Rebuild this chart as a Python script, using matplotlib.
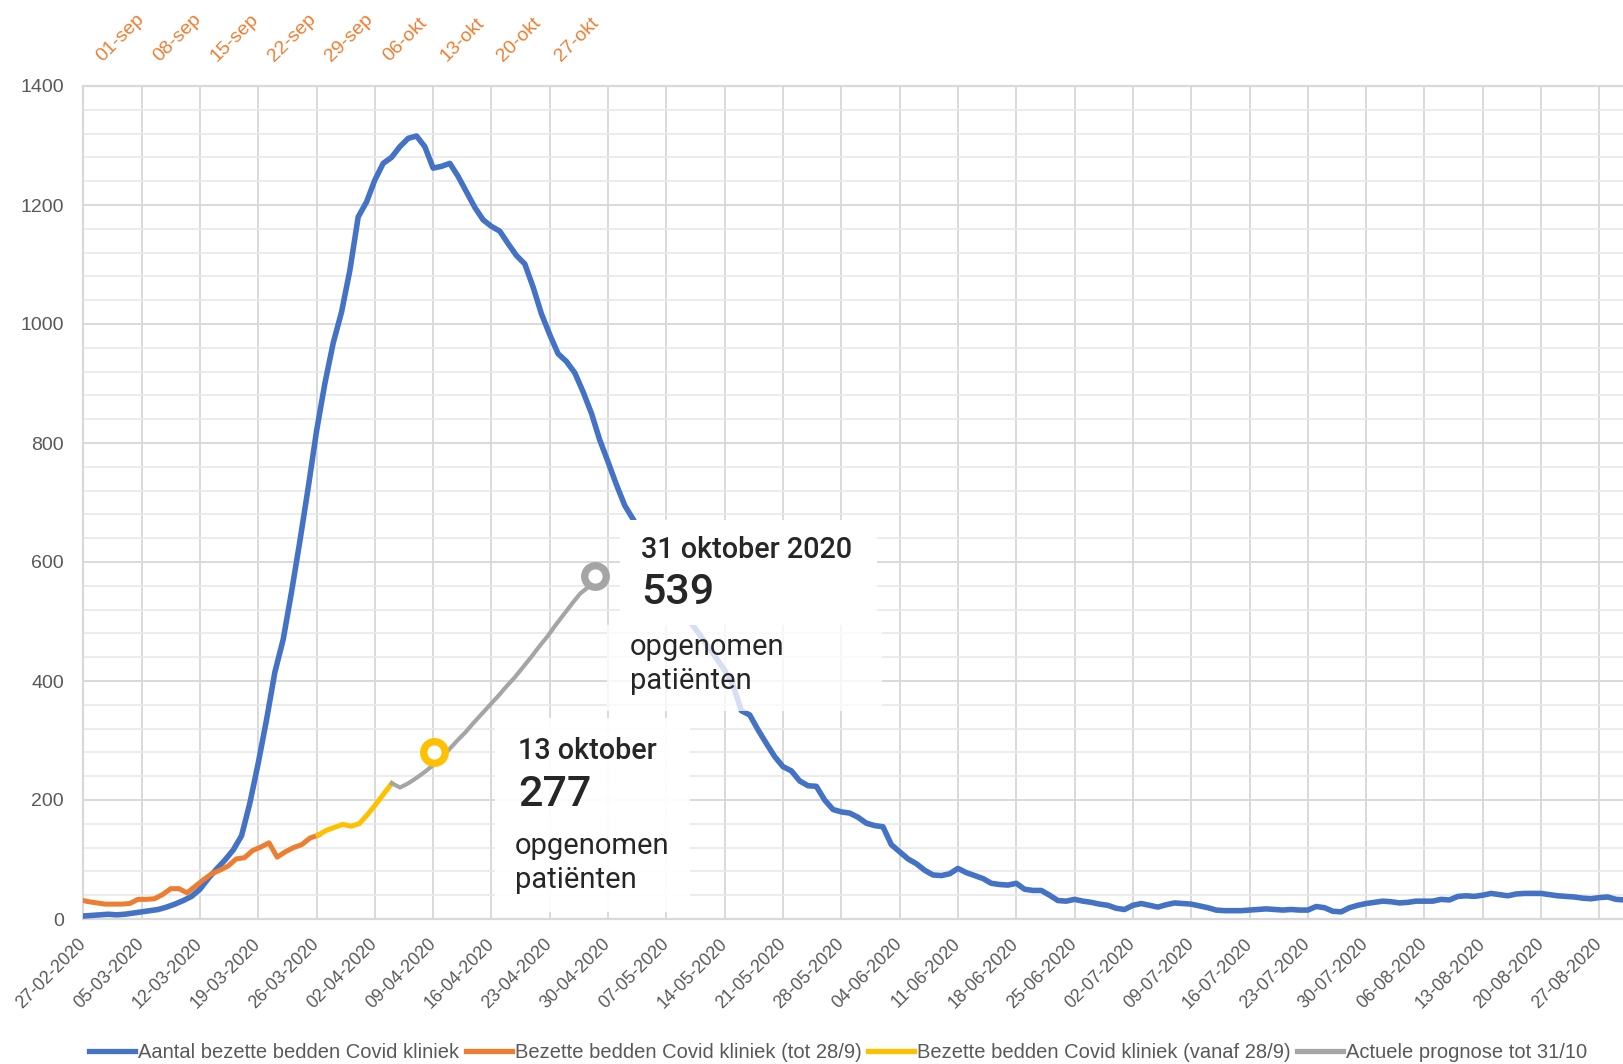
import datetime as dt
import matplotlib
matplotlib.use("Agg")
import matplotlib.pyplot as plt
import matplotlib.dates as mdates
from matplotlib.patches import Rectangle
from matplotlib.ticker import MultipleLocator, FixedLocator
from matplotlib.lines import Line2D
from matplotlib.transforms import ScaledTranslation

# ---------------- data ----------------
blue_start = dt.datetime(2020, 2, 27)
blue_values = [
    5, 6, 7, 8, 7, 8, 10, 12, 14, 16, 20, 25, 31, 38, 50, 68, 84, 99, 116, 140,
    195, 262, 335, 415, 470, 550, 635, 725, 820, 900, 968, 1020, 1090, 1180, 1205, 1242, 1270, 1280, 1298, 1312,
    1316, 1298, 1262, 1265, 1270, 1248, 1222, 1196, 1175, 1164, 1156, 1135, 1115, 1101, 1062, 1017, 982, 950, 937, 918,
    886, 850, 805, 768, 730, 695, 672, 648, 622, 598, 572, 548, 522, 497, 478, 458, 438, 418, 393, 350,
    343, 318, 295, 273, 256, 249, 232, 224, 223, 200, 184, 180, 178, 171, 161, 157, 155, 125, 113, 101,
    93, 82, 74, 73, 76, 85, 78, 73, 68, 60, 58, 57, 60, 50, 48, 48, 40, 31, 30, 33,
    30, 28, 25, 23, 18, 16, 23, 26, 23, 20, 24, 27, 26, 25, 22, 19, 15, 14, 14, 14,
    15, 16, 17, 16, 15, 16, 15, 15, 21, 19, 13, 12, 19, 23, 26, 28, 30, 29, 27, 28,
    30, 30, 30, 33, 32, 38, 39, 38, 40, 43, 41, 39, 42, 43, 43, 43, 41, 39, 38, 37,
    35, 34, 36, 37, 33, 32,
]

orange_start = dt.datetime(2020, 8, 30)
orange_values = [32, 29, 27, 25, 25, 25, 26, 33, 33, 34, 41, 51, 51, 44, 55, 66, 76, 82, 89, 101,
                 103, 115, 121, 128, 104, 113, 120, 125, 136, 141]

yellow_start = dt.datetime(2020, 9, 28)
yellow_values = [141, 149, 154, 159, 156, 160, 175, 192, 210, 228]

gray_start = dt.datetime(2020, 10, 7)
gray_values = [228, 221, 228, 237, 247, 258, 271, 285, 300, 314, 330, 345, 360, 375, 391,
               406, 423, 440, 458, 475, 494, 512, 530, 547, 558]

marker_ref = dt.datetime(2020, 9, 1)
marker_days = [41.1, 60.8]          # days after 01-09 where the circles sit
marker_values = [281, 576]

top_labels = ["01-sep", "08-sep", "15-sep", "22-sep", "29-sep", "06-okt", "13-okt", "20-okt", "27-okt"]
y_ticks = [0, 200, 400, 600, 800, 1000, 1200, 1400]

legend_labels = [
    "Aantal bezette bedden Covid kliniek",
    "Bezette bedden Covid kliniek (tot 28/9)",
    "Bezette bedden Covid kliniek (vanaf 28/9)",
    "Actuele prognose tot 31/10",
]

note1_date, note1_value, note1_unit = "13 oktober", "277", "opgenomen\npatiënten"
note2_date, note2_value, note2_unit = "31 oktober 2020", "539", "opgenomen\npatiënten"

# ---------------- style ----------------
BLUE, ORANGE, YELLOW, GRAY = "#4472C4", "#ED7D31", "#FFC000", "#A5A5A5"
TXT = "#595959"
plt.rcParams["font.family"] = ["Liberation Sans", "DejaVu Sans"]

W, H = 1623, 1064
fig = plt.figure(figsize=(W / 100, H / 100), dpi=100)

L, R, T, B = 83.3, 1623, 86, 919
ax = fig.add_axes([L / W, (H - B) / H, (R - L) / W, (B - T) / H])


def dates(start, n):
    return [start + dt.timedelta(days=i) for i in range(n)]


bx = mdates.date2num(dates(blue_start, len(blue_values)))
ax.plot(bx, blue_values, color=BLUE, lw=4.0, solid_joinstyle="round", solid_capstyle="round", zorder=3)

b0 = mdates.date2num(blue_start)
ax.set_xlim(b0, b0 + (R - L) / 8.33)
ax.set_ylim(0, 1400)

tick_dates = [blue_start + dt.timedelta(days=7 * k) for k in range(27)]
ax.xaxis.set_major_locator(FixedLocator(mdates.date2num(tick_dates)))
ax.set_xticklabels([d.strftime("%d-%m-%Y") for d in tick_dates], rotation=45,
                   ha="right", va="center", rotation_mode="anchor", color=TXT, fontsize=12.8)
ax.yaxis.set_major_locator(FixedLocator(y_ticks))
ax.yaxis.set_minor_locator(MultipleLocator(40))
ax.set_yticklabels([str(v) for v in y_ticks], color=TXT, fontsize=14)
ax.tick_params(axis="both", which="both", length=0)
ax.tick_params(axis="x", pad=16)
ax.tick_params(axis="y", pad=14)

ax.set_axisbelow(True)
ax.grid(which="major", axis="both", color="#D9D9D9", lw=1.4)
ax.grid(which="minor", axis="y", color="#E9E9E9", lw=1.2)
ax.spines["right"].set_visible(False)
for s in ("top", "left", "bottom"):
    ax.spines[s].set_color("#D9D9D9")
    ax.spines[s].set_linewidth(1.6)

# ---------------- overlay on a second x-axis (Sep/Oct) ----------------
ax2 = ax.twiny()
s0 = mdates.date2num(marker_ref)
ax2.set_xlim(s0 - (97 - L) / 8.19, s0 + (R - 97) / 8.19)
for s in ax2.spines.values():
    s.set_visible(False)

ox = mdates.date2num(dates(orange_start, len(orange_values)))
yx = mdates.date2num(dates(yellow_start, len(yellow_values)))
gx = mdates.date2num(dates(gray_start, len(gray_values)))
ax2.plot(ox, orange_values, color=ORANGE, lw=3.6, solid_joinstyle="round", zorder=3)
ax2.plot(yx, yellow_values, color=YELLOW, lw=3.6, solid_joinstyle="round", zorder=3)
ax2.plot(gx, gray_values, color=GRAY, lw=3.0, solid_joinstyle="round", zorder=3)

mx = [s0 + d for d in marker_days]
ax2.plot(mx[:1], marker_values[:1], "o", ms=15.5, mew=5.3, mec=YELLOW, mfc="white", zorder=6)
ax2.plot(mx[1:], marker_values[1:], "o", ms=15.5, mew=5.3, mec=GRAY, mfc="white", zorder=6)

top_ticks = [s0 + 7 * k for k in range(len(top_labels))]
ax2.xaxis.set_major_locator(FixedLocator(top_ticks))
ax2.set_xticklabels(top_labels, rotation=45, ha="left", va="bottom",
                    rotation_mode="anchor", color=ORANGE, fontsize=14)
ax2.tick_params(axis="x", length=0, pad=15)
shift = ScaledTranslation(8 / 100, 0, fig.dpi_scale_trans)
for lab in ax2.get_xticklabels():
    lab.set_transform(lab.get_transform() + shift)


# ---------------- white label boxes + texts ----------------
def fx(px):
    return (px - L) / (R - L)


def fy(py):
    return (B - py) / (B - T)


def box(x0, y0, x1, y1, alpha):
    ax2.add_patch(Rectangle((fx(x0), fy(y1)), fx(x1) - fx(x0), fy(y0) - fy(y1),
                            transform=ax2.transAxes, facecolor="white", edgecolor="none",
                            alpha=alpha, zorder=5))


box(620, 520, 877, 625, 1.0)
box(607, 625, 882, 711, 0.78)
box(495, 718, 690, 912, 0.95)

DARK = "#262626"
tkw = dict(transform=ax2.transAxes, ha="left", va="center", color=DARK, zorder=7,
           family=["Roboto", "DejaVu Sans"])
ax2.text(fx(641), fy(550), note2_date, fontsize=20.7, fontweight="medium", **tkw)
ax2.text(fx(641), fy(592), note2_value, fontsize=31, fontweight="medium", **tkw)
ax2.text(fx(630), fy(664), note2_unit, fontsize=21, linespacing=1.25, **tkw)

ax2.text(fx(518), fy(751), note1_date, fontsize=20.7, fontweight="medium", **tkw)
ax2.text(fx(518), fy(794.5), note1_value, fontsize=31, fontweight="medium", **tkw)
ax2.text(fx(515), fy(863), note1_unit, fontsize=21, linespacing=1.25, **tkw)

# ---------------- legend ----------------
handles = [Line2D([], [], color=c, lw=3.8) for c in (BLUE, ORANGE, YELLOW, GRAY)]
leg = fig.legend(handles, legend_labels, loc="lower left", bbox_to_anchor=(87 / W, 0.0),
                 ncol=4, frameon=False, fontsize=14.5, handlelength=2.3, handletextpad=0.15,
                 columnspacing=0.3, borderpad=0.1, borderaxespad=0)
for t in leg.get_texts():
    t.set_color(TXT)

fig.savefig("out.png", dpi=100)
